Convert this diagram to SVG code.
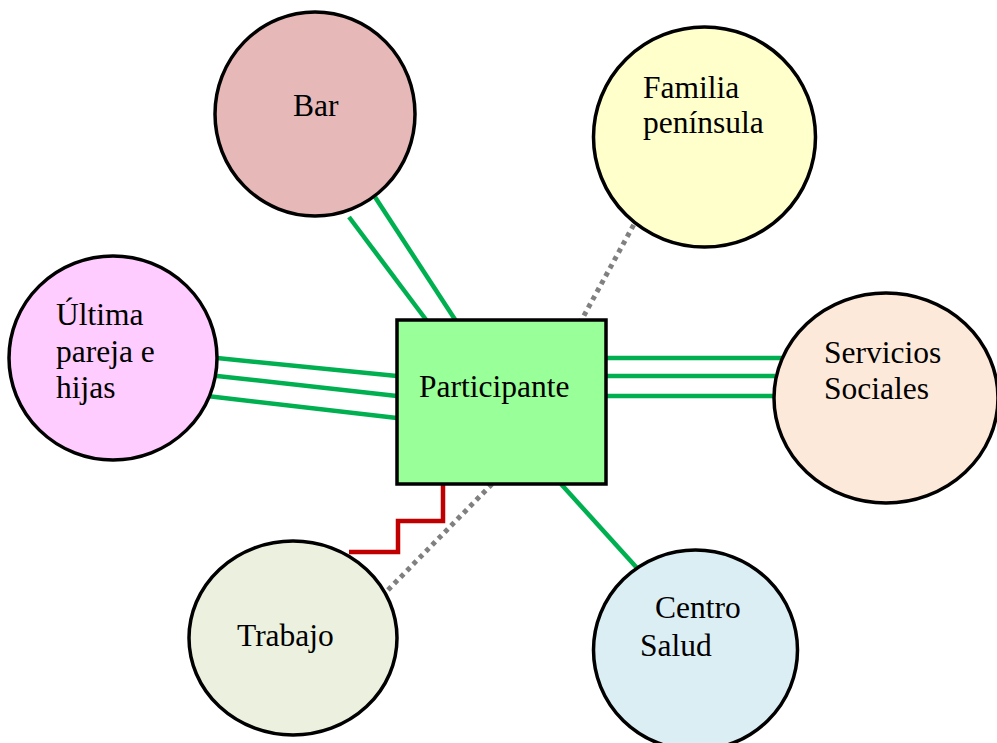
<svg xmlns="http://www.w3.org/2000/svg" width="997" height="743" viewBox="0 0 997 743">
<style>
.n{stroke:#000;stroke-width:3.5}
.t{font-family:"Liberation Serif","Times New Roman",serif;font-size:31.5px;fill:#000}
.g{stroke:#00B050;stroke-width:4.5;fill:none}
.d{stroke:#808080;stroke-width:5;stroke-dasharray:4.5 4.5;fill:none}
.r{stroke:#C00000;stroke-width:4.5;fill:none}
</style>
<rect width="997" height="743" fill="#fff"/>
<g id="connectors">
<line class="g" x1="349" y1="217" x2="427" y2="321"/>
<line class="g" x1="375" y1="197" x2="456" y2="321"/>
<line class="d" x1="638" y1="217" x2="581" y2="321"/>
<line class="g" x1="217" y1="358" x2="397" y2="376"/>
<line class="g" x1="217" y1="376" x2="397" y2="396"/>
<line class="g" x1="207" y1="396" x2="397" y2="418"/>
<line class="g" x1="606" y1="358" x2="785" y2="358"/>
<line class="g" x1="606" y1="376" x2="775" y2="376"/>
<line class="g" x1="606" y1="396" x2="775" y2="396"/>
<polyline class="r" points="443,484 443,521 398,521 398,552 349,552"/>
<line class="d" x1="492" y1="484" x2="387" y2="591"/>
<line class="g" x1="561" y1="484" x2="637" y2="568"/>
</g>
<g id="bar"><ellipse class="n" cx="315" cy="114" rx="100" ry="102" fill="#E6B8B7"/><text class="t" x="293" y="116">Bar</text></g>
<g id="familia"><ellipse class="n" cx="704.5" cy="137" rx="111" ry="110" fill="#FFFFCC"/><text class="t" x="643" y="98">Familia</text><text class="t" x="643" y="133">península</text></g>
<g id="ultima"><ellipse class="n" cx="113" cy="358" rx="104" ry="102" fill="#FFCCFF"/><text class="t" x="56" y="325">Última</text><text class="t" x="56" y="362">pareja e</text><text class="t" x="56" y="398">hijas</text></g>
<g id="servicios"><ellipse class="n" cx="886" cy="398" rx="112" ry="105" fill="#FDE9D9"/><text class="t" x="824" y="363">Servicios</text><text class="t" x="824" y="399">Sociales</text></g>
<g id="trabajo"><ellipse class="n" cx="293" cy="638" rx="104" ry="97" fill="#EBF1DE"/><text class="t" x="237" y="646">Trabajo</text></g>
<g id="centro"><ellipse class="n" cx="695.5" cy="650" rx="102" ry="100" fill="#DBEEF3"/><text class="t" x="655" y="618">Centro</text><text class="t" x="640" y="656">Salud</text></g>
<g id="participante"><rect class="n" x="397" y="320" width="209" height="164" fill="#99FF99"/><text class="t" x="419" y="397">Participante</text></g>
</svg>
